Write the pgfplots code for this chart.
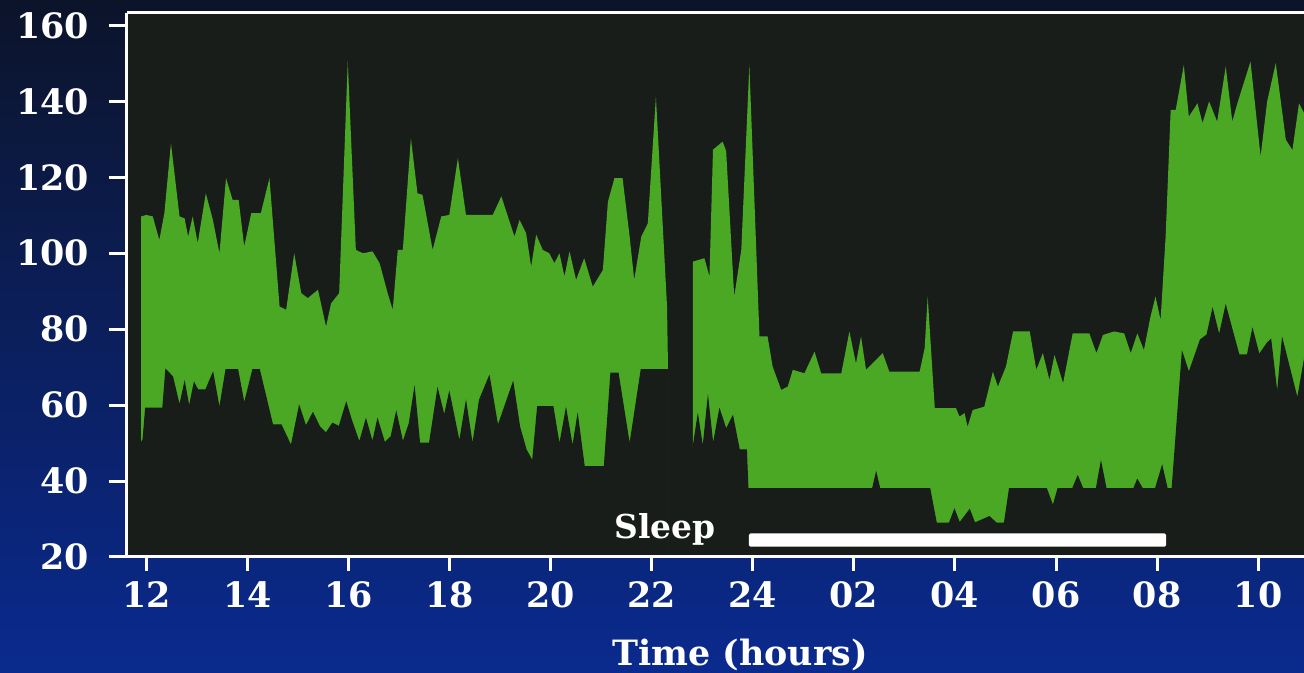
\documentclass[border=0pt]{standalone}
\usepackage{pgfplots}
\pgfplotsset{compat=1.18}
\usepackage{fontspec}
\setmainfont{DejaVu Serif}
\definecolor{bgtop}{RGB}{12,20,42}
\definecolor{bgmid}{RGB}{12,30,82}
\definecolor{bgbot}{RGB}{10,42,142}
\definecolor{plotbg}{RGB}{24,29,25}
\definecolor{hr}{RGB}{74,168,36}
\begin{document}
\begin{tikzpicture}[x=1bp,y=1bp]
\shade[top color=bgtop, middle color=bgmid, bottom color=bgbot] (0,0) rectangle (1304,672);
\begin{axis}[
  at={(126.7bp,115bp)}, anchor=south west,
  scale only axis, width=1177.3bp, height=544bp,
  xmin=11.604, xmax=34.91, ymin=20, ymax=163.3,
  axis background/.style={fill=plotbg},
  axis on top,
  axis x line*=bottom, axis y line*=left,
  axis line style={white, line width=3bp},
  tick align=outside,
  xtick={12,14,...,34},
  xticklabels={12,14,16,18,20,22,24,02,04,06,08,10},
  ytick={20,40,...,160},
  xtick style={white, line width=3bp, /pgfplots/major tick length=14bp},
  ytick style={white, line width=3bp, /pgfplots/major tick length=18bp},
  /pgf/number format/assume math mode=true,
  ticklabel style={text=white, font=\fontsize{35}{40}\selectfont\bfseries},
  yticklabel style={anchor=east, inner sep=0pt, xshift=-33bp},
  xticklabel style={anchor=north, inner sep=0pt, yshift=-20bp},
  clip=true,
]
% upper envelope, segment A (filled down to the axis)
\addplot[fill=hr, draw=none] coordinates {
(11.89,109.7) (11.99,110.1) (12.12,109.7) (12.25,103.5) (12.35,110.6) (12.48,129.0) (12.65,109.7) (12.75,109.2) (12.82,104.4) (12.91,109.7) (13.01,102.7) (13.17,115.8) (13.31,108.8) (13.44,100.0) (13.57,119.8) (13.70,114.1) (13.82,114.1) (13.93,101.8) (14.07,110.6) (14.26,110.6) (14.43,119.8) (14.63,86.0) (14.76,85.1) (14.92,100.0) (15.06,89.5) (15.19,88.2) (15.39,90.4) (15.55,80.7) (15.65,86.8) (15.81,89.5) (15.98,150.5) (16.14,100.9) (16.28,100.0) (16.47,100.5) (16.61,97.4) (16.77,89.5) (16.87,85.1) (16.97,100.9) (17.07,100.9) (17.23,130.3) (17.36,115.8) (17.46,115.4) (17.66,100.9) (17.83,109.7) (17.99,110.1) (18.16,125.1) (18.32,110.1) (18.85,110.1) (19.02,115.0) (19.15,109.7) (19.28,104.4) (19.38,108.8) (19.51,105.3) (19.61,96.5) (19.71,104.9) (19.84,100.9) (19.97,100.0) (20.07,97.4) (20.17,100.0) (20.27,93.9) (20.37,100.5) (20.50,93.0) (20.66,98.7) (20.83,91.2) (21.03,95.6) (21.13,113.6) (21.26,119.8) (21.42,119.8) (21.56,104.4) (21.65,93.0) (21.79,104.4) (21.92,107.9) (22.08,141.3) (22.30,86.0) (22.32,69.3)
} \closedcycle;
% upper envelope, segment B
\addplot[fill=hr, draw=none] coordinates {
(22.81,97.8) (23.04,98.7) (23.14,93.9) (23.21,127.3) (23.40,129.4) (23.47,127.0) (23.63,88.6) (23.77,100.9) (23.93,149.6) (24.13,78.1) (24.29,78.1) (24.39,70.2) (24.56,64.0) (24.69,64.9) (24.79,69.3) (25.02,68.4) (25.22,74.1) (25.35,68.4) (25.75,68.4) (25.91,79.4) (26.04,71.0) (26.14,78.1) (26.24,69.3) (26.57,73.7) (26.70,68.8) (27.30,68.8) (27.40,75.0) (27.46,88.6) (27.60,59.2) (28.02,59.2) (28.09,57.0) (28.19,57.9) (28.25,54.3) (28.35,58.7) (28.58,59.6) (28.75,68.8) (28.85,64.9) (29.01,70.2) (29.15,79.4) (29.48,79.4) (29.61,69.3) (29.74,73.7) (29.87,66.6) (29.97,73.2) (30.14,65.8) (30.33,78.9) (30.66,78.9) (30.80,73.7) (30.93,78.5) (31.15,79.4) (31.35,78.9) (31.48,73.7) (31.61,78.9) (31.74,74.5) (31.87,83.3) (31.97,88.6) (32.07,82.4) (32.17,104.4) (32.27,137.8) (32.37,137.8) (32.53,149.6) (32.63,136.0) (32.80,139.5) (32.90,134.3) (33.03,140.0) (33.19,134.7) (33.36,149.2) (33.49,134.7) (33.59,139.5) (33.85,150.5) (34.05,125.5) (34.18,140.0) (34.35,150.1) (34.55,129.9) (34.68,127.2) (34.81,139.5) (34.95,136.0)
} \closedcycle;
% lower envelope, segment A (area below it in background colour)
\addplot[fill=plotbg, draw=plotbg, line width=1.2bp] coordinates {
(11.89,50.0) (11.93,51.0) (11.98,59.2) (12.32,59.2) (12.38,69.3) (12.51,67.5) (12.65,59.6) (12.75,65.8) (12.84,59.2) (12.94,65.8) (13.01,64.0) (13.17,64.0) (13.31,68.4) (13.44,58.7) (13.57,69.3) (13.80,69.3) (13.93,60.1) (14.10,69.3) (14.23,69.3) (14.49,54.8) (14.66,54.8) (14.86,49.1) (15.02,59.6) (15.15,54.3) (15.29,57.9) (15.42,54.3) (15.55,52.6) (15.68,55.2) (15.81,54.3) (15.95,60.5) (16.05,56.1) (16.21,50.0) (16.34,56.1) (16.47,50.0) (16.57,56.1) (16.71,50.0) (16.84,51.7) (16.94,57.9) (17.07,50.0) (17.20,55.2) (17.30,64.0) (17.40,50.0) (17.60,50.0) (17.76,64.0) (17.89,57.0) (17.99,63.1) (18.19,50.0) (18.32,60.5) (18.45,49.1) (18.59,61.4) (18.78,67.5) (18.95,54.3) (19.25,65.8) (19.38,54.3) (19.51,48.2) (19.64,45.1) (19.74,59.6) (20.04,59.6) (20.17,49.1) (20.30,58.7) (20.43,48.6) (20.53,57.0) (20.66,43.8) (21.06,43.8) (21.19,68.4) (21.33,68.4) (21.56,49.1) (21.79,69.3) (22.32,69.3)
} \closedcycle;
% lower envelope, segment B
\addplot[fill=plotbg, draw=plotbg, line width=1.2bp] coordinates {
(22.81,48.2) (22.91,57.0) (23.01,48.2) (23.11,61.4) (23.21,49.1) (23.34,58.7) (23.47,53.5) (23.60,57.0) (23.73,48.2) (23.87,48.2) (23.90,38.0) (26.37,38.0) (26.44,42.0) (26.51,38.0) (27.50,38.0) (27.63,28.9) (27.89,28.9) (27.99,32.4) (28.09,28.9) (28.29,32.4) (28.39,28.9) (28.68,30.6) (28.82,28.9) (28.98,28.9) (29.08,38.0) (29.81,38.0) (29.94,33.3) (30.04,38.0) (30.33,38.0) (30.43,41.2) (30.53,38.0) (30.80,38.0) (30.89,44.7) (30.99,38.0) (31.54,38.0) (31.61,40.3) (31.71,38.0) (31.97,38.0) (32.10,43.8) (32.20,38.0) (32.30,38.0) (32.50,73.7) (32.63,68.4) (32.86,77.2) (32.99,78.5) (33.10,85.1) (33.23,78.1) (33.36,86.0) (33.62,73.2) (33.79,73.2) (33.89,79.8) (34.02,73.2) (34.18,76.3) (34.25,77.2) (34.38,62.3) (34.48,77.2) (34.78,61.4) (34.95,74.5)
} \closedcycle;
% sleep bar
\fill[white, rounded corners=1.5bp] (axis cs:23.92,22.7) rectangle (axis cs:32.18,26.2);
\node[anchor=base, text=white, font=\fontsize{33}{38}\selectfont\bfseries, inner sep=0pt] at (axis cs:22.26,25.0) {Sleep};
\end{axis}
\draw[white, line width=3bp] (126.7,659) -- (1304,659);
\node[anchor=base, text=white, font=\fontsize{35}{40}\selectfont\bfseries, inner sep=0pt] at (740,7) {Time (hours)};
\pgfresetboundingbox
\useasboundingbox (0,0) rectangle (1304,672);
\end{tikzpicture}
\end{document}
